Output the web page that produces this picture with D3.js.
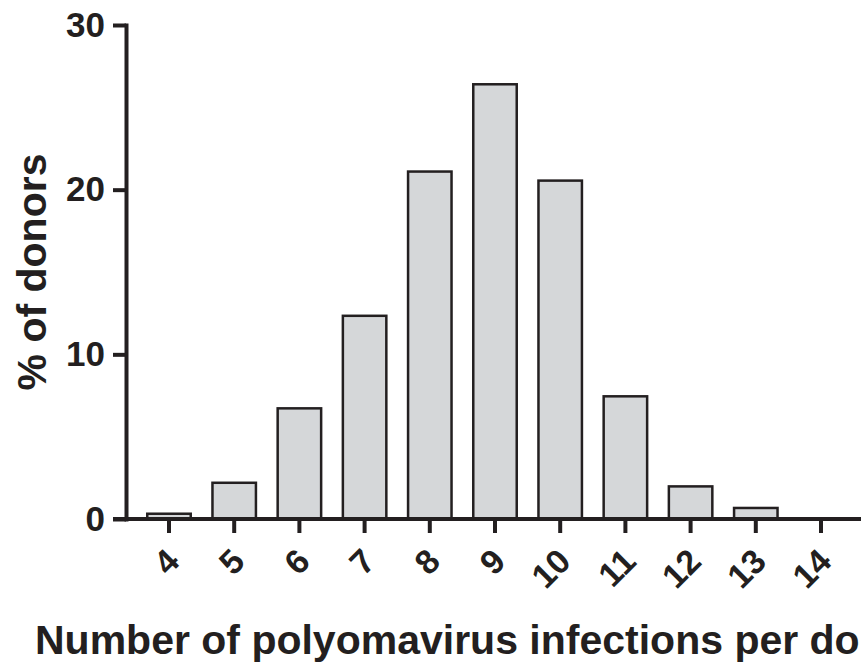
<!DOCTYPE html>
<html>
<head>
<meta charset="utf-8">
<script src="https://cdn.jsdelivr.net/npm/d3@7"></script>
<style>
  body { margin: 0; background: #fff; }
  text { font-family: "Liberation Sans", Arial, sans-serif; font-weight: bold; fill: #231f20; }
  .bar { fill: #d5d7d9; stroke: #231f20; stroke-width: 2.5; }
  .axis path, .axis line { stroke: #231f20; stroke-width: 4; }
</style>
</head>
<body>
<div id="chart"></div>
<script>
// infections per donor
var categories = ["4", "5", "6", "7", "8", "9", "10", "11", "12", "13", "14"];
// % of donors
var percentDonors = [0.32, 2.2, 6.72, 12.34, 21.1, 26.4, 20.55, 7.45, 1.98, 0.67, 0];
var yTicks = [0, 10, 20, 30];

var w = 861;
var h = 664;

var margin = {left: 126, top: 25, bottom: 145};
var tickLen = 13;

function init() {
    var data = categories.map(function (c, i) {
        return {cat: c, value: percentDonors[i]};
    });

    var svg = d3.select("#chart")
                .append("svg")
                .attr("width", w)
                .attr("height", h);

    var xScale = d3.scaleBand()
                    .domain(categories)
                    .range([136.4, 853.6])
                    .paddingInner(1/3)
                    .paddingOuter(1/6);

    var yScale = d3.scaleLinear()
                    .domain([0, 30])
                    .range([h - margin.bottom, margin.top]);

    // bars
    svg.selectAll("rect.bar")
        .data(data)
        .enter()
        .append("rect")
        .attr("class", "bar")
        .attr("x", function (d) { return xScale(d.cat); })
        .attr("y", function (d) { return yScale(d.value); })
        .attr("width", xScale.bandwidth())
        .attr("height", function (d) { return yScale(0) - yScale(d.value); });

    // x axis
    var xAxis = d3.axisBottom(xScale)
                    .tickSize(14)
                    .tickSizeOuter(0);

    var gx = svg.append("g")
        .attr("class", "axis")
        .attr("transform", "translate(0," + yScale(0) + ")")
        .call(xAxis);
    gx.select(".domain").remove();
    // axis line runs past the last category to the edge
    gx.append("line")
        .attr("x1", margin.left - tickLen)
        .attr("x2", w)
        .attr("y1", 0)
        .attr("y2", 0);
    gx.selectAll(".tick text")
        .attr("x", 0)
        .attr("y", 0)
        .attr("dy", "0.35em")
        .attr("transform", "translate(4,36) rotate(-45)")
        .style("text-anchor", "end")
        .style("font-size", "34px");

    // y axis
    var yAxis = d3.axisLeft(yScale)
                    .tickValues(yTicks)
                    .tickSize(tickLen)
                    .tickSizeOuter(0)
                    .tickPadding(8);

    var gy = svg.append("g")
        .attr("class", "axis")
        .attr("transform", "translate(" + margin.left + ",0)")
        .call(yAxis);
    gy.select(".domain").attr("stroke-linecap", "square");
    gy.selectAll(".tick text")
        .style("font-size", "35px");

    // labels
    svg.append("text")
        .attr("x", 35)
        .attr("y", 654)
        .style("font-size", "41px")
        .text("Number of polyomavirus infections per donor");

    svg.append("text")
        .attr("transform", "translate(46," + yScale(15) + ") rotate(-90)")
        .attr("text-anchor", "middle")
        .style("font-size", "41px")
        .text("% of donors");
}

window.onload = init;
</script>
</body>
</html>
